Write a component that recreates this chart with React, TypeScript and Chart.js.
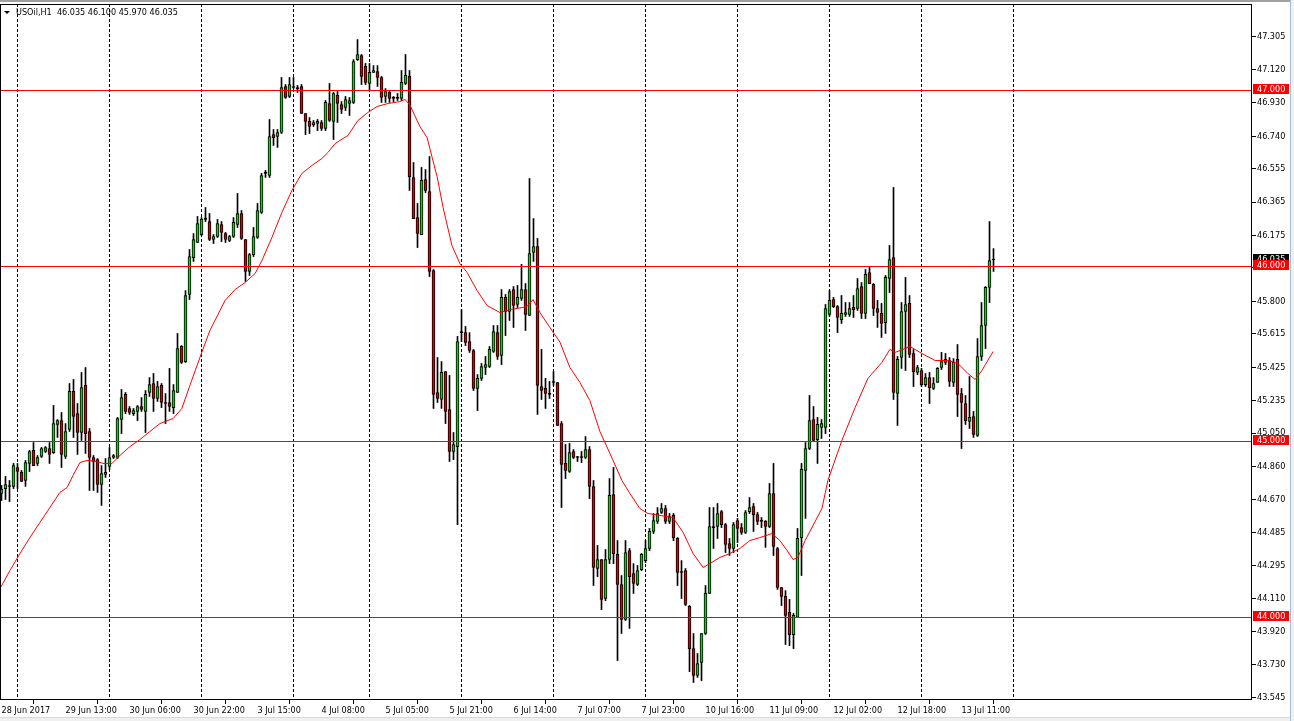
import React, { useEffect, useRef } from 'react';
import { Chart, registerables } from 'chart.js';

Chart.register(...registerables);

const FONT = "'DejaVu Sans Condensed', 'DejaVu Sans', sans-serif";
const BULL = '#10d010';
const BEAR = '#e00000';

const symbolTitle = 'USOil,H1';

const open = [
  44.706,44.734,44.746,44.746,44.854,44.826,44.780,44.877,44.951,44.877,
  44.917,44.945,44.962,44.939,45.099,45.121,44.917,45.070,45.287,45.161,
  45.053,45.321,45.059,44.911,44.899,44.757,44.814,44.860,44.911,44.911,
  45.127,45.270,45.190,45.161,45.173,45.201,45.173,45.281,45.332,45.247,
  45.321,45.218,45.224,45.195,45.281,45.543,45.457,45.839,46.049,46.135,
  46.180,46.266,46.254,46.152,46.169,46.237,46.186,46.146,46.169,46.237,
  46.300,46.152,45.970,46.066,46.163,46.306,46.528,46.516,46.749,46.738,
  46.761,47.023,46.966,47.017,47.011,47.023,46.869,46.824,46.806,46.812,
  46.818,46.784,46.926,46.824,46.972,46.920,46.903,46.926,46.932,47.176,
  47.199,47.137,47.040,47.103,47.108,47.074,46.966,46.989,46.955,46.955,
  46.955,47.040,47.080,46.505,46.277,46.180,46.493,46.425,45.975,45.281,
  45.241,45.400,45.184,44.945,44.973,45.622,45.622,45.571,45.520,45.304,
  45.361,45.423,45.429,45.514,45.622,45.492,45.822,45.742,45.867,45.782,
  45.816,45.867,45.719,46.078,46.112,45.315,45.304,45.270,45.338,45.338,
  45.104,44.877,44.831,44.945,44.911,44.911,44.911,44.956,44.746,44.279,
  44.330,44.108,44.330,44.700,44.359,44.188,43.989,44.381,44.250,44.188,
  44.273,44.324,44.393,44.490,44.547,44.598,44.620,44.547,44.581,44.450,
  44.256,44.267,44.063,43.823,43.670,43.744,43.909,44.137,44.512,44.518,
  44.603,44.529,44.421,44.393,44.552,44.512,44.484,44.603,44.632,44.586,
  44.547,44.547,44.518,44.706,44.393,44.171,44.120,44.029,43.903,44.000,
  44.455,44.837,44.962,45.127,45.013,45.082,45.082,45.725,45.810,45.770,
  45.696,45.725,45.725,45.765,45.759,45.884,45.731,45.964,45.896,45.759,
  45.731,45.679,45.930,46.049,45.275,45.480,45.742,45.788,45.503,45.395,
  45.406,45.326,45.366,45.304,45.338,45.423,45.452,45.463,45.338,45.469,
  45.275,45.218,45.116,45.144,45.036,45.486,45.662,45.879,46.035,
];

const high = [
  44.752,44.803,44.780,44.877,44.877,44.837,44.894,44.951,44.996,44.922,
  44.968,44.973,44.996,45.207,45.127,45.167,45.104,45.332,45.355,45.218,
  45.395,45.423,45.076,44.922,44.905,44.865,44.905,44.968,44.928,45.139,
  45.298,45.281,45.201,45.190,45.207,45.252,45.292,45.366,45.389,45.344,
  45.332,45.275,45.418,45.326,45.617,45.548,45.861,46.095,46.186,46.283,
  46.277,46.334,46.300,46.180,46.266,46.254,46.192,46.175,46.277,46.414,
  46.317,46.152,46.072,46.220,46.357,46.528,46.545,46.835,46.778,46.778,
  47.074,47.034,47.074,47.074,47.029,47.034,46.869,46.846,46.829,46.835,
  46.829,46.943,47.040,46.989,46.994,46.937,46.966,46.960,47.176,47.290,
  47.205,47.154,47.154,47.142,47.142,47.080,47.011,46.994,46.966,46.983,
  47.114,47.205,47.114,46.590,46.357,46.562,46.550,46.624,45.981,45.480,
  45.457,45.400,45.378,45.053,45.600,45.753,45.657,45.622,45.526,45.383,
  45.446,45.486,45.543,45.662,45.662,45.867,45.839,45.867,45.884,45.890,
  46.010,45.901,46.499,46.271,46.158,45.526,45.361,45.344,45.400,45.338,
  45.116,44.985,44.991,44.956,44.917,44.945,45.030,44.973,44.780,44.410,
  44.330,44.387,44.791,44.854,44.438,44.239,44.438,44.393,44.307,44.296,
  44.364,44.438,44.507,44.592,44.626,44.649,44.638,44.592,44.592,44.455,
  44.324,44.279,44.068,43.909,43.795,43.909,44.182,44.626,44.626,44.649,
  44.609,44.535,44.450,44.541,44.564,44.535,44.609,44.683,44.649,44.598,
  44.569,44.552,44.763,44.877,44.399,44.171,44.153,44.103,44.023,44.507,
  44.877,44.996,45.264,45.201,45.139,45.127,45.782,45.861,45.822,45.776,
  45.833,45.793,45.793,45.833,45.930,45.907,45.981,45.993,45.901,45.805,
  45.788,45.947,46.118,46.448,45.486,45.793,45.936,45.833,45.526,45.435,
  45.418,45.389,45.395,45.366,45.423,45.509,45.503,45.480,45.474,45.554,
  45.304,45.264,45.372,45.173,45.588,45.793,45.884,46.254,46.100,
];

const low = [
  44.666,44.672,44.660,44.734,44.734,44.774,44.746,44.831,44.865,44.865,
  44.911,44.939,44.877,44.934,45.025,44.854,44.905,45.059,45.025,44.928,
  45.008,44.934,44.723,44.723,44.712,44.638,44.797,44.843,44.905,44.905,
  45.047,45.161,45.156,45.150,45.121,45.173,45.053,45.258,45.173,45.230,
  45.195,45.104,45.173,45.161,45.281,45.446,45.452,45.810,46.027,46.135,
  46.175,46.254,46.146,46.129,46.163,46.140,46.135,46.140,46.163,46.220,
  46.152,45.913,45.947,46.055,46.158,46.300,46.505,46.505,46.687,46.676,
  46.755,46.955,46.960,47.011,46.989,46.869,46.749,46.755,46.795,46.772,
  46.772,46.772,46.824,46.721,46.818,46.869,46.886,46.858,46.926,47.171,
  47.034,47.034,47.000,47.103,47.023,46.932,46.932,46.932,46.937,46.943,
  46.943,47.034,46.431,46.271,46.106,46.180,46.419,45.941,45.190,45.224,
  45.190,45.104,44.888,44.899,44.529,45.571,45.548,45.509,45.292,45.178,
  45.349,45.383,45.423,45.509,45.469,45.440,45.605,45.691,45.651,45.765,
  45.805,45.634,45.719,46.027,45.156,45.241,45.190,45.247,45.321,45.093,
  44.626,44.791,44.826,44.905,44.888,44.882,44.905,44.677,44.182,44.233,
  44.045,44.096,44.307,44.307,43.755,43.909,43.983,43.938,44.137,44.182,
  44.267,44.313,44.381,44.478,44.535,44.592,44.535,44.535,44.438,44.182,
  44.108,44.068,43.692,43.630,43.659,43.641,43.903,44.137,44.393,44.450,
  44.512,44.370,44.353,44.370,44.427,44.473,44.478,44.592,44.490,44.529,
  44.512,44.399,44.512,44.353,44.160,44.068,43.846,43.840,43.823,44.000,
  44.239,44.564,44.956,45.002,44.877,45.019,45.047,45.714,45.765,45.622,
  45.674,45.714,45.714,45.708,45.748,45.702,45.702,45.901,45.719,45.651,
  45.594,45.617,45.850,45.241,45.093,45.418,45.406,45.480,45.315,45.383,
  45.315,45.315,45.218,45.298,45.338,45.412,45.440,45.315,45.315,45.144,
  44.962,45.099,45.076,45.025,45.030,45.463,45.531,45.793,45.970,
];

const close = [
  44.729,44.757,44.746,44.865,44.831,44.774,44.882,44.945,44.865,44.911,
  44.962,44.968,44.928,45.104,45.121,44.928,45.059,45.287,45.144,45.053,
  45.309,45.047,44.911,44.888,44.757,44.820,44.826,44.911,44.922,45.133,
  45.252,45.173,45.167,45.178,45.201,45.184,45.270,45.326,45.247,45.315,
  45.224,45.218,45.201,45.292,45.531,45.452,45.833,46.055,46.152,46.243,
  46.266,46.266,46.152,46.169,46.243,46.192,46.152,46.169,46.249,46.300,
  46.158,45.970,46.066,46.169,46.317,46.516,46.528,46.738,46.732,46.761,
  47.017,46.960,47.034,47.017,47.011,46.869,46.824,46.795,46.818,46.824,
  46.784,46.932,46.829,46.983,46.926,46.892,46.949,46.943,47.165,47.205,
  47.080,47.046,47.103,47.114,47.074,46.960,46.994,46.955,46.955,46.955,
  47.046,47.086,46.510,46.271,46.186,46.488,46.431,45.970,45.270,45.247,
  45.395,45.173,44.945,44.985,45.571,45.622,45.566,45.520,45.304,45.361,
  45.429,45.440,45.526,45.628,45.486,45.822,45.742,45.856,45.776,45.822,
  45.867,45.725,46.072,46.112,45.321,45.292,45.275,45.270,45.338,45.093,
  44.871,44.837,44.939,44.911,44.911,44.911,44.956,44.746,44.285,44.330,
  44.103,44.330,44.695,44.364,44.188,43.989,44.370,44.233,44.194,44.267,
  44.359,44.393,44.490,44.552,44.592,44.620,44.547,44.575,44.455,44.256,
  44.256,44.074,43.823,43.670,43.738,43.909,44.137,44.518,44.512,44.592,
  44.529,44.416,44.393,44.529,44.507,44.484,44.598,44.626,44.586,44.547,
  44.547,44.518,44.706,44.404,44.171,44.120,44.012,43.903,44.012,44.450,
  44.843,44.962,45.121,45.008,45.099,45.104,45.759,45.805,45.770,45.708,
  45.731,45.736,45.759,45.753,45.873,45.731,45.953,45.901,45.759,45.736,
  45.674,45.936,46.038,45.281,45.469,45.742,45.782,45.497,45.400,45.423,
  45.326,45.366,45.309,45.332,45.418,45.457,45.469,45.344,45.452,45.270,
  45.224,45.121,45.139,45.042,45.486,45.662,45.879,46.032,46.035,
];

// Moving average, positioned on the bar axis
const maIndex = [
  -0.375, 2.1, 4.6, 7.1, 9.6, 11.6, 14.6, 16.4, 17.9, 19.6,
  21.4, 23.9, 25.4, 27.6, 29.6, 32.1, 34.6, 37.1, 39.6, 42.9,
  45.1, 47.1, 49.6, 52.1, 55.9, 58.4, 60.9, 63.4, 65.1, 67.6,
  70.1, 72.6, 75.1, 77.6, 80.1, 81.6, 83.4, 86.6, 89.1, 91.6,
  93.9, 96.6, 99.6, 100.9, 102.1, 104.6, 106.4, 107.6, 108.9, 110.4,
  112.6, 114.6, 116.4, 118.9, 121.4, 124.6, 127.1, 130.4, 131.6, 132.9,
  134.6, 137.1, 139.6, 142.1, 144.6, 147.1, 149.6, 152.9, 155.1, 157.1,
  159.6, 161.6, 164.6, 167.9, 170.4, 172.9, 175.4, 177.1, 179.6, 182.1,
  184.6, 187.1, 189.6, 192.6, 194.6, 196.4, 197.9, 199.1, 200.9, 205.1,
  206.6, 210.1, 213.4, 216.6, 220.1, 222.1, 223.4, 225.9, 227.1, 230.1,
  233.4, 236.6, 239.1, 241.6, 243.4, 245.1, 247.9,
];
const maValue = [
  44.165, 44.267, 44.364, 44.455, 44.541, 44.609, 44.712, 44.740, 44.809, 44.882,
  44.894, 44.888, 44.877, 44.877, 44.922, 44.973, 45.013, 45.059, 45.104, 45.133,
  45.190, 45.321, 45.480, 45.634, 45.805, 45.867, 45.907, 45.958, 46.032, 46.163,
  46.306, 46.431, 46.528, 46.573, 46.613, 46.647, 46.698, 46.744, 46.829, 46.875,
  46.909, 46.926, 46.937, 46.949, 46.917, 46.795, 46.732, 46.624, 46.510, 46.334,
  46.118, 46.015, 45.964, 45.861, 45.776, 45.736, 45.753, 45.765, 45.776, 45.810,
  45.736, 45.651, 45.568, 45.423, 45.338, 45.235, 45.059, 44.894, 44.780, 44.706,
  44.620, 44.592, 44.581, 44.569, 44.484, 44.364, 44.285, 44.307, 44.342, 44.364,
  44.393, 44.438, 44.455, 44.478, 44.438, 44.381, 44.330, 44.342, 44.438, 44.620,
  44.780, 45.008, 45.195, 45.361, 45.452, 45.526, 45.509, 45.531, 45.543, 45.503,
  45.463, 45.463, 45.446, 45.389, 45.355, 45.406, 45.514,
];

const xTickIndex = [0, 16, 32, 48, 64, 80, 96, 112, 128, 144, 160, 176, 192, 208, 224, 240];
const xTickLabels = [
  '28 Jun 2017', '29 Jun 13:00', '30 Jun 06:00', '30 Jun 22:00', '3 Jul 15:00',
  '4 Jul 08:00', '5 Jul 05:00', '5 Jul 21:00', '6 Jul 14:00', '7 Jul 07:00',
  '7 Jul 23:00', '10 Jul 16:00', '11 Jul 09:00', '12 Jul 02:00', '12 Jul 18:00',
  '13 Jul 11:00',
];
const yTickValues = [
  43.545, 43.730, 43.920, 44.110, 44.295, 44.485, 44.670, 44.860, 45.050, 45.235,
  45.425, 45.615, 45.800, 45.990, 46.175, 46.365, 46.555, 46.740, 46.930, 47.120, 47.305,
];
const levelLines = [47, 46, 45, 44];
const bidPrice = 46.035;
const daySeparators = [4, 27, 50, 73, 92, 115, 138, 161, 184, 207, 230, 253];

export default function App() {
  const ref = useRef<HTMLCanvasElement>(null);

  useEffect(() => {
    document.body.style.margin = '0';
    document.body.style.background = '#fff';
    const canvas = ref.current;
    if (!canvas) return;

    const bodies = open.map((o, i) => ({ x: i, y: [Math.min(o, close[i]), Math.max(o, close[i])] }));
    const wicks = open.map((_, i) => ({ x: i, y: [low[i], high[i]] }));
    const bodyColors = open.map((o, i) => (close[i] > o ? BULL : close[i] < o ? BEAR : '#000'));
    const ma = maIndex.map((x, i) => ({ x, y: maValue[i] }));
    const last = open.length - 1;
    const titleText = `${symbolTitle}  ${open[last].toFixed(3)} ${high[last].toFixed(3)} ${low[last].toFixed(3)} ${close[last].toFixed(3)}`;

    const overlay = {
      id: 'mtOverlay',
      beforeDatasetsDraw(chart: any) {
        const { ctx, chartArea, scales } = chart;
        ctx.save();
        ctx.strokeStyle = '#000';
        ctx.lineWidth = 1;
        ctx.setLineDash([3, 2]);
        daySeparators.forEach((i) => {
          const px = Math.floor(scales.x.getPixelForValue(i)) + 0.5;
          ctx.beginPath();
          ctx.moveTo(px, chartArea.top);
          ctx.lineTo(px, chartArea.bottom);
          ctx.stroke();
        });
        ctx.restore();
      },
      afterDatasetsDraw(chart: any) {
        const { ctx, chartArea, scales } = chart;
        ctx.save();
        ctx.strokeStyle = '#ff0000';
        ctx.lineWidth = 1;
        levelLines.forEach((v) => {
          const py = Math.floor(scales.y.getPixelForValue(v)) + 0.5;
          ctx.beginPath();
          ctx.moveTo(chartArea.left, py);
          ctx.lineTo(chartArea.right, py);
          ctx.stroke();
        });
        ctx.restore();
      },
      afterDraw(chart: any) {
        const { ctx, chartArea, scales } = chart;
        const { left, top, right, bottom } = chartArea;
        ctx.save();
        // frame
        ctx.strokeStyle = '#000';
        ctx.lineWidth = 1;
        ctx.strokeRect(left + 0.5, top + 0.5, right - left - 1, bottom - top - 1);
        // price labels
        ctx.font = `9px ${FONT}`;
        ctx.textBaseline = 'middle';
        ctx.textAlign = 'left';
        const box = (v: number, bg: string) => {
          const r = Math.floor(scales.y.getPixelForValue(v));
          ctx.fillStyle = bg;
          ctx.fillRect(right + 1, r - 6, 36, 10);
          ctx.fillStyle = '#fff';
          ctx.fillText(v.toFixed(3), right + 5, r - 0.5);
        };
        box(bidPrice, '#000');
        levelLines.forEach((v) => box(v, '#ff0000'));
        // title
        ctx.fillStyle = '#000';
        ctx.beginPath();
        ctx.moveTo(4, 11);
        ctx.lineTo(10, 11);
        ctx.lineTo(7, 14);
        ctx.closePath();
        ctx.fill();
        ctx.fillStyle = '#000';
        ctx.fillText(titleText, 16, 13);
        // window frame
        ctx.fillStyle = '#a0a0a0';
        ctx.fillRect(0, 0, chart.width, 2);
        ctx.fillStyle = '#f0f0f0';
        ctx.fillRect(1291, 0, 3, chart.height);
        ctx.fillRect(0, 718, chart.width, 3);
        ctx.fillStyle = '#a9bcd6';
        ctx.fillRect(1290, 0, 1, chart.height);
        ctx.fillStyle = '#d8d8d8';
        ctx.fillRect(0, 717, 1290, 1);
        ctx.restore();
      },
    };

    const chart = new Chart(canvas, {
      type: 'bar',
      data: {
        datasets: [
          {
            type: 'line',
            data: ma,
            borderColor: '#ff0000',
            borderWidth: 1,
            pointRadius: 0,
            tension: 0,
            order: 0,
          } as any,
          {
            data: bodies,
            backgroundColor: bodyColors,
            borderColor: '#000',
            borderWidth: 1,
            borderSkipped: false,
            barThickness: 3,
            minBarLength: 1,
            grouped: false,
            order: 1,
          } as any,
          {
            data: wicks,
            backgroundColor: '#000',
            borderWidth: 0,
            barThickness: 1,
            grouped: false,
            order: 2,
          } as any,
        ],
      },
      options: {
        responsive: false,
        animation: false,
        devicePixelRatio: 1,
        events: [],
        layout: { padding: { top: 4, left: 0, right: 0, bottom: 0 } },
        plugins: {
          legend: { display: false },
          tooltip: { enabled: false },
          title: { display: false },
        },
        scales: {
          x: {
            type: 'linear',
            min: -0.375,
            max: 312.625,
            offset: false,
            afterBuildTicks: (s: any) => {
              s.ticks = xTickIndex.map((v) => ({ value: v }));
            },
            afterFit: (s: any) => {
              s.height = 21;
              s.paddingLeft = 0;
              s.paddingRight = 0;
            },
            grid: { drawOnChartArea: false, drawTicks: true, tickLength: 4, color: '#000' },
            border: { display: false },
            ticks: {
              autoSkip: false,
              maxRotation: 0,
              minRotation: 0,
              align: 'start',
              padding: 1,
              color: '#000',
              font: { family: FONT, size: 9 },
              callback: (_v: any, i: number) => xTickLabels[i],
            },
          } as any,
          y: {
            type: 'linear',
            position: 'right',
            min: 43.5304,
            max: 47.4924,
            afterBuildTicks: (s: any) => {
              s.ticks = yTickValues.map((v) => ({ value: v }));
            },
            afterFit: (s: any) => {
              s.width = 42;
              s.paddingTop = 0;
              s.paddingBottom = 0;
            },
            grid: { drawOnChartArea: false, drawTicks: true, tickLength: 4, color: '#000' },
            border: { display: false },
            ticks: {
              autoSkip: false,
              padding: 1,
              color: '#000',
              font: { family: FONT, size: 9 },
              callback: (v: any) => Number(v).toFixed(3),
            },
          } as any,
        },
      },
      plugins: [overlay],
    });

    return () => chart.destroy();
  }, []);

  return <canvas ref={ref} width={1294} height={721} style={{ display: 'block' }} />;
}
